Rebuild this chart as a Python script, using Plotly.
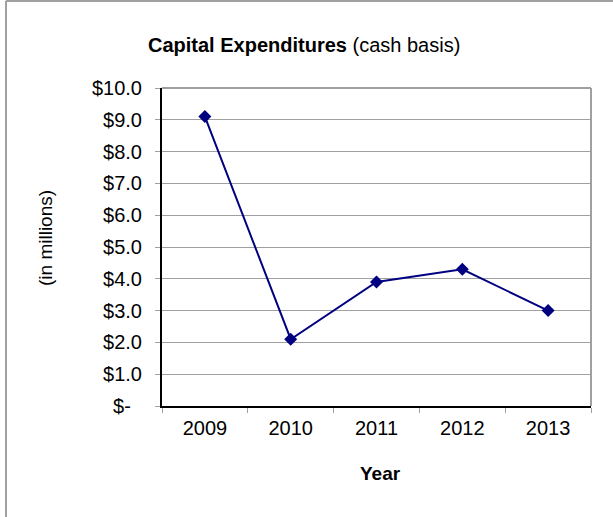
import plotly.graph_objects as go

years = ["2009", "2010", "2011", "2012", "2013"]
capex = [9.1, 2.1, 3.9, 4.3, 3.0]
y_tickvals = [0, 1, 2, 3, 4, 5, 6, 7, 8, 9, 10]
y_ticktext = ["$-\u00a0\u00a0", "$1.0", "$2.0", "$3.0", "$4.0", "$5.0",
              "$6.0", "$7.0", "$8.0", "$9.0", "$10.0"]

FONT = "Liberation Sans, Arial, sans-serif"
L, R, T, B = 162, 591, 88, 406
W, H = 613, 517
pw, ph = R - L, B - T

def px(x):
    return (x - L) / pw

def py(y):
    return (B - y) / ph

fig = go.Figure()
fig.add_trace(go.Scatter(
    x=years, y=capex, mode="lines+markers",
    line=dict(color="#000080", width=2),
    marker=dict(symbol="diamond", size=10, color="#000080"),
    showlegend=False, hoverinfo="skip",
))

fig.update_layout(
    width=W, height=H,
    margin=dict(l=L, r=W - R, t=T, b=H - B, pad=0),
    paper_bgcolor="white", plot_bgcolor="white",
    font=dict(family=FONT, size=20, color="black"),
    xaxis=dict(
        type="category", tickson="boundaries", showgrid=False,
        ticks="outside", ticklen=5, tickcolor="#a0a0a0", tickwidth=1,
        showline=True, linecolor="black", linewidth=2,
        tickfont=dict(size=20), ticklabelstandoff=3,
        range=[-0.5, 4.5], zeroline=False,
    ),
    yaxis=dict(
        range=[0, 10], tickvals=y_tickvals, ticktext=y_ticktext,
        showgrid=True, gridcolor="#a0a0a0", gridwidth=1,
        ticks="outside", ticklen=5, tickcolor="#a0a0a0", tickwidth=1,
        showline=True, linecolor="black", linewidth=2,
        tickfont=dict(size=20), ticklabelstandoff=9, zeroline=False,
    ),
    shapes=[
        dict(type="line", xref="paper", yref="paper", x0=0, x1=1, y0=1, y1=1,
             line=dict(color="#a0a0a0", width=2)),
        dict(type="line", xref="paper", yref="paper", x0=1, x1=1, y0=0, y1=1,
             line=dict(color="#a0a0a0", width=2)),
        dict(type="line", xref="paper", yref="paper", x0=px(6), x1=px(6), y0=py(1), y1=py(530),
             line=dict(color="#a0a0a0", width=2)),
        dict(type="line", xref="paper", yref="paper", x0=px(6), x1=px(640), y0=py(1), y1=py(1),
             line=dict(color="#a0a0a0", width=2)),
    ],
    annotations=[
        dict(text="<b>Capital Expenditures</b> (cash basis)", xref="paper", yref="paper",
             x=px(304), y=py(45), xanchor="center", yanchor="middle", showarrow=False,
             font=dict(size=20)),
        dict(text="(in millions)", xref="paper", yref="paper", textangle=-90,
             x=px(45), y=py(238), xanchor="center", yanchor="middle", showarrow=False,
             font=dict(size=19)),
        dict(text="<b>Year</b>", xref="paper", yref="paper",
             x=px(380), y=py(473), xanchor="center", yanchor="middle", showarrow=False,
             font=dict(size=19)),
    ],
)

fig.write_html("out.html")
